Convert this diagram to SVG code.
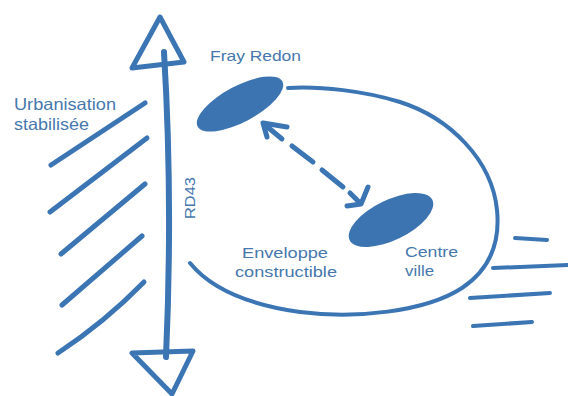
<svg xmlns="http://www.w3.org/2000/svg" width="568" height="396" viewBox="0 0 568 396">
<style>
.s{fill:none;stroke:#3b75b4;stroke-linecap:round;stroke-linejoin:round}
.w6{stroke-width:6}
.w5{stroke-width:5}
.w4{stroke-width:4}
.b{fill:#3b74b1}
text{font-family:"Liberation Sans",Arial,sans-serif;fill:#4677ad}
</style>
<rect width="568" height="396" fill="#ffffff"/>
<g id="road">
<path class="s w6" d="M164,52 Q173,200 166,357"/>
<path class="s w5" d="M132,68 L160,17 L184,62 Z"/>
<path class="s w5" d="M132,353 L193,351 L172,394 Z"/>
<text transform="translate(195,219) rotate(-90)" font-size="15" textLength="42" lengthAdjust="spacingAndGlyphs">RD43</text>
</g>
<g id="urbanisation">
<path class="s w5" d="M51,165 L145,103"/>
<path class="s w5" d="M50,212 L147,138"/>
<path class="s w5" d="M61,254 L145,184"/>
<path class="s w5" d="M62,305 L142,236"/>
<path class="s w5" d="M58,353 Q105,322 144,282"/>
<text x="14" y="110" font-size="16.5" textLength="102" lengthAdjust="spacingAndGlyphs">Urbanisation</text>
<text x="14" y="130" font-size="16.5" textLength="75" lengthAdjust="spacingAndGlyphs">stabilisée</text>
</g>
<g id="fray-redon">
<ellipse class="b" cx="240" cy="104" rx="48" ry="18" transform="rotate(-28 240 104)"/>
<text x="210" y="61" font-size="15.5" textLength="91" lengthAdjust="spacingAndGlyphs">Fray Redon</text>
</g>
<g id="centre-ville">
<ellipse class="b" cx="391" cy="220" rx="46" ry="20" transform="rotate(-26 391 220)"/>
<text x="405" y="257" font-size="15.5" textLength="53" lengthAdjust="spacingAndGlyphs">Centre</text>
<text x="405" y="276" font-size="15.5" textLength="29" lengthAdjust="spacingAndGlyphs">ville</text>
</g>
<g id="enveloppe">
<path class="s w4" d="M190,263 C212,290 250,305 300,312 C355,319 425,312 462,288 C492,268 500,240 497,210 C492,160 450,118 400,102 C365,91 320,86 288,88"/>
<text x="242" y="258" font-size="15.5" textLength="86" lengthAdjust="spacingAndGlyphs">Enveloppe</text>
<text x="235" y="277" font-size="15.5" textLength="102" lengthAdjust="spacingAndGlyphs">constructible</text>
</g>
<g id="right-hatch">
<path class="s w4" d="M515,238 L547,240"/>
<path class="s w4" d="M493,268 L568,265"/>
<path class="s w4" d="M470,298 L550,293"/>
<path class="s w4" d="M473,326 L532,322"/>
</g>
<g id="connectors">
<path class="s w5" d="M264,124 L282,139 M292,146 L313,162 M322,170 L343,187 M350,193 L360,203"/>
<path class="s w5" d="M267,137 L263,123 L287,127"/>
<path class="s w5" d="M368,187 L361,204 L347,206"/>
</g>
</svg>
